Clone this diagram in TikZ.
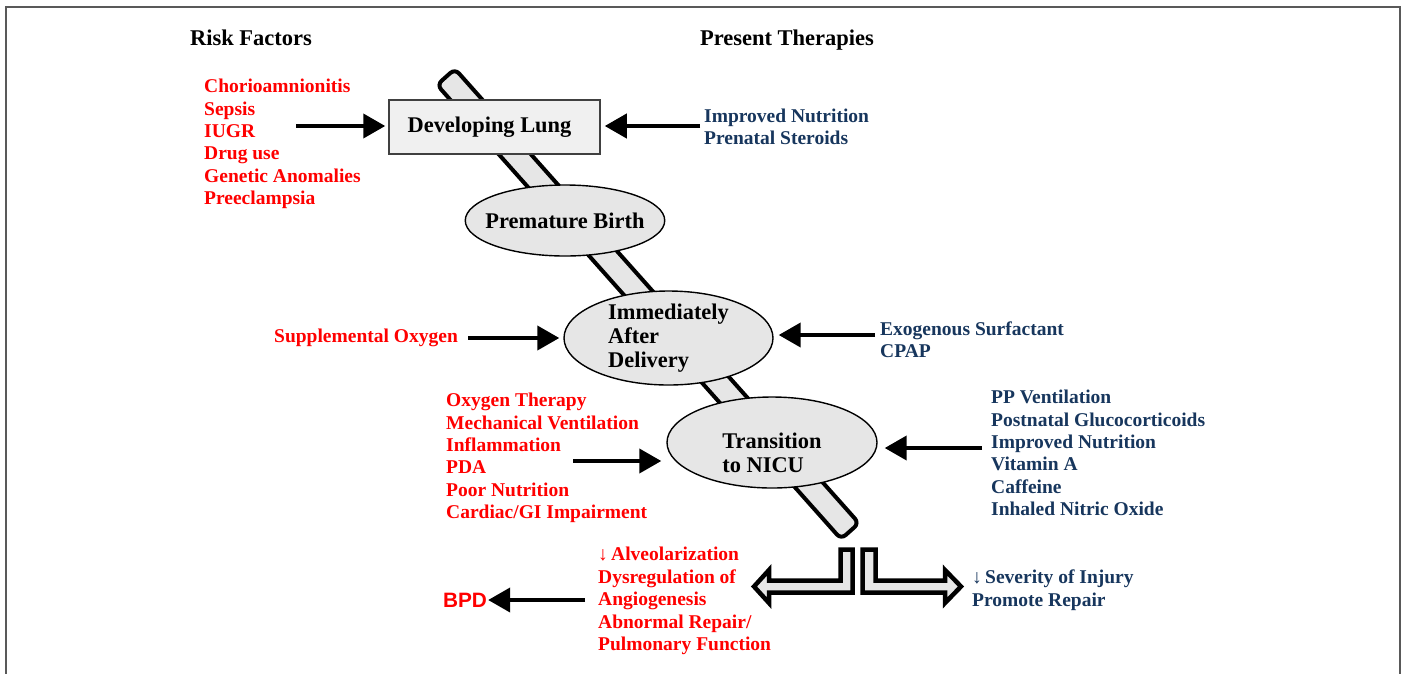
\documentclass[tikz,border=0pt]{standalone}
\usepackage{fontspec}
\setmainfont{Liberation Serif}
\newfontfamily\arialfont{Liberation Sans}
\usetikzlibrary{arrows.meta,shapes.geometric}
\definecolor{rfred}{HTML}{FF0000}
\definecolor{ptblue}{HTML}{17365D}
\definecolor{shapegray}{HTML}{E6E6E6}
\definecolor{framegray}{HTML}{595959}
\tikzset{
  listfont/.style={font=\bfseries\fontsize{19.5}{22.4}\selectfont},
  riskl/.style={listfont, text=rfred, align=left, anchor=west, inner sep=0pt},
  therl/.style={listfont, text=ptblue, align=left, anchor=west, inner sep=0pt},
  header/.style={font=\bfseries\fontsize{22.5}{24}\selectfont, inner sep=0pt, anchor=base},
  stage/.style={ellipse, draw=black, line width=1.4pt, fill=shapegray, inner sep=0pt,
    font=\bfseries\fontsize{22.4}{24}\selectfont, align=left},
  arr/.style={line width=4pt, -{Triangle[length=22pt,width=24pt]}},
  hollow/.style={line width=4.5pt, draw=black, fill=shapegray, miter limit=10},
}
\begin{document}
\begin{tikzpicture}[x=1pt,y=-1pt]
\useasboundingbox (0,0) rectangle (1405,673);
\draw[framegray, line width=2pt] (6,690) -- (6,7) -- (1400,7) -- (1400,690);

% diagonal bar
\node[rectangle, draw=black, line width=4pt, fill=shapegray, rounded corners=6pt,
  minimum width=608pt, minimum height=24pt, inner sep=0pt, rotate=-48.35] (bar) at (648,304) {};

% headers
\node[header] (hrisk) at (251,45) {Risk Factors};
\node[header] (hther) at (787,45) {Present Therapies};

% stages
\node[rectangle, draw=black!75, line width=1.5pt, fill=gray!12, minimum width=211pt,
  minimum height=54pt, inner sep=0pt, font=\bfseries\fontsize{22.4}{24}\selectfont] (dev) at (494.5,127) {\kern-10pt Developing Lung};
\node[stage, inner xsep=-9pt, minimum width=198pt, minimum height=71pt] (prem) at (565,220.5) {Premature Birth};
\node[stage, inner ysep=-3pt, minimum width=209pt, minimum height=94pt] (imm) at (668.5,338) {Immediately\\After\\Delivery};
\node[stage, minimum width=210pt, minimum height=91pt] (nicu) at (772,442.5)
  {\smash{\raisebox{-18pt}{\begin{tabular}{@{}l@{}}Transition\\to NICU\end{tabular}}}};

% lists
\node[riskl] (rf1) at (204,144) {Chorioamnionitis\\Sepsis\\IUGR\\Drug use\\Genetic Anomalies\\Preeclampsia};
\node[therl] (pt1) at (704,127) {Improved Nutrition\\Prenatal Steroids};
\node[riskl] (rf2) at (274,338) {Supplemental Oxygen};
\node[therl] (pt2) at (880,340) {Exogenous Surfactant\\CPAP};
\node[riskl] (rf3) at (446,458) {Oxygen Therapy\\Mechanical Ventilation\\Inflammation\\PDA\\Poor Nutrition\\Cardiac/GI Impairment};
\node[therl] (pt3) at (991,453) {PP Ventilation\\Postnatal Glucocorticoids\\Improved Nutrition\\Vitamin A\\Caffeine\\Inhaled Nitric Oxide};
\node[riskl] (out1) at (598,601) {↓\,Alveolarization\\Dysregulation of\\Angiogenesis\\Abnormal Repair/\\Pulmonary Function};
\node[therl] (out2) at (972,590) {↓\,Severity of Injury\\Promote Repair};
\node[font=\arialfont\bfseries\fontsize{20.8}{24}\selectfont, text=rfred, inner sep=0pt] (bpd) at (465,600) {BPD};

% arrow tails
\coordinate (t1) at (296,126);
\coordinate (t2) at (700,126);
\coordinate (t3) at (468,338);
\coordinate (t4) at (875,335);
\coordinate (t5) at (573,461);
\coordinate (t6) at (982,448);
\coordinate (t7) at (585,600);

\draw[arr, shorten >=3pt] (t1) -- (t1 -| dev.west);
\draw[arr, shorten >=4pt] (t2) -- (t2 -| dev.east);
\draw[arr, shorten >=4pt] (t3) -- (t3 -| imm.west);
\draw[arr, shorten >=5pt] (t4) -- (t4 -| imm.east);
\draw[arr, shorten >=5pt] (t5) -- (t5 -| nicu.west);
\draw[arr, shorten >=7pt] (t6) -- (t6 -| nicu.east);
\draw[arr, shorten >=1pt] (t7) -- (t7 -| bpd.east);

% bottom split hollow arrows
\draw[hollow] (840.5,549.5) -- (852.5,549.5) -- (852.5,592.5) -- (769,592.5) -- (769,603)
  -- (754,586.5) -- (769,570) -- (769,580.5) -- (840.5,580.5) -- cycle;
\draw[hollow] (862.5,549.5) -- (875.5,549.5) -- (875.5,580.5) -- (945,580.5) -- (945,570)
  -- (961,586.5) -- (945,603) -- (945,592.5) -- (862.5,592.5) -- cycle;
\end{tikzpicture}
\end{document}
